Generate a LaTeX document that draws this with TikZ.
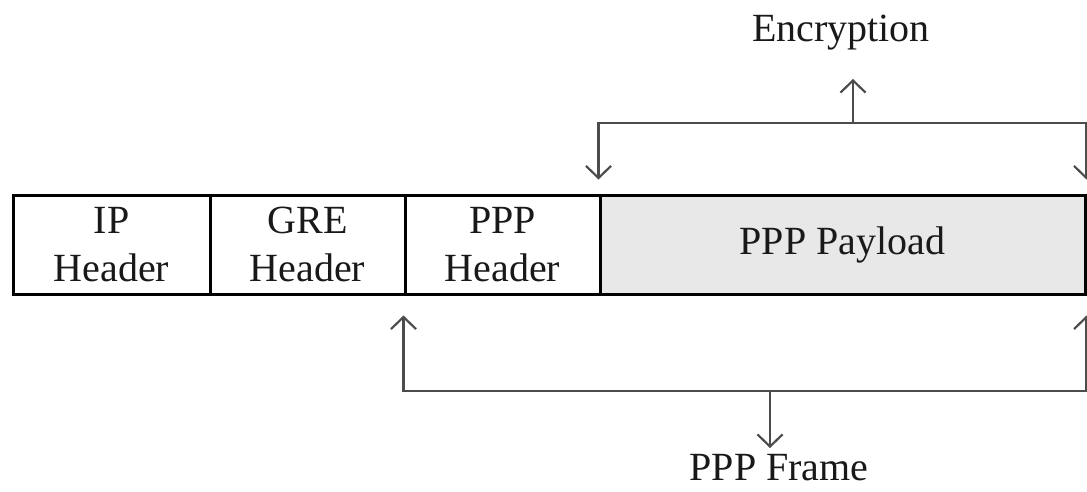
\documentclass[tikz,border=0pt]{standalone}
\usepackage{fontspec}
\setmainfont{Liberation Serif}
\usetikzlibrary{arrows.meta}
\begin{document}
\begin{tikzpicture}[x=1pt,y=-1pt,
  cell/.style={draw=black, line width=3pt, minimum height=99pt, inner sep=0pt,
    align=center, text=black!90, font=\fontsize{40}{48}\selectfont},
  conn/.style={draw=black!70, line width=2.2pt},
  tip/.style={-{Straight Barb[length=12pt,width=25pt,line width=2.2pt]}},
  tips/.style={{Straight Barb[length=12pt,width=25pt,line width=2.2pt]}-{Straight Barb[length=12pt,width=25pt,line width=2.2pt]}},
  lbl/.style={anchor=base, inner sep=0pt, text=black!90, font=\fontsize{40}{48}\selectfont}]
\useasboundingbox (0,0) rectangle (1087,492);
\node[cell, minimum width=197pt] (ip)   at (111.5,244.5) {IP\\Header};
\node[cell, minimum width=195pt] (gre)  at (307.5,244.5) {GRE\\Header};
\node[cell, minimum width=195pt] (ppph) at (502.5,244.5) {PPP\\Header};
\node[cell, minimum width=485pt, fill=black!9] (pay) at (842.5,244.5) {PPP Payload};
\node[lbl] (enc) at (841,42) {Encryption};
\node[lbl] (frame) at (779,480) {PPP Frame};
\coordinate (tb) at (853,123);
\coordinate (bb) at (770,391);
\draw[conn, tips] ([yshift=14pt]pay.north west) |- (tb) -| ([yshift=14pt]pay.north east);
\draw[conn, tip] (tb) -- (tb |- 0,79);
\draw[conn, tips] ([yshift=-20pt]ppph.south west) |- (bb) -| ([yshift=-20pt]pay.south east);
\draw[conn, tip] (bb) -- (bb |- 0,448);
\end{tikzpicture}
\end{document}
